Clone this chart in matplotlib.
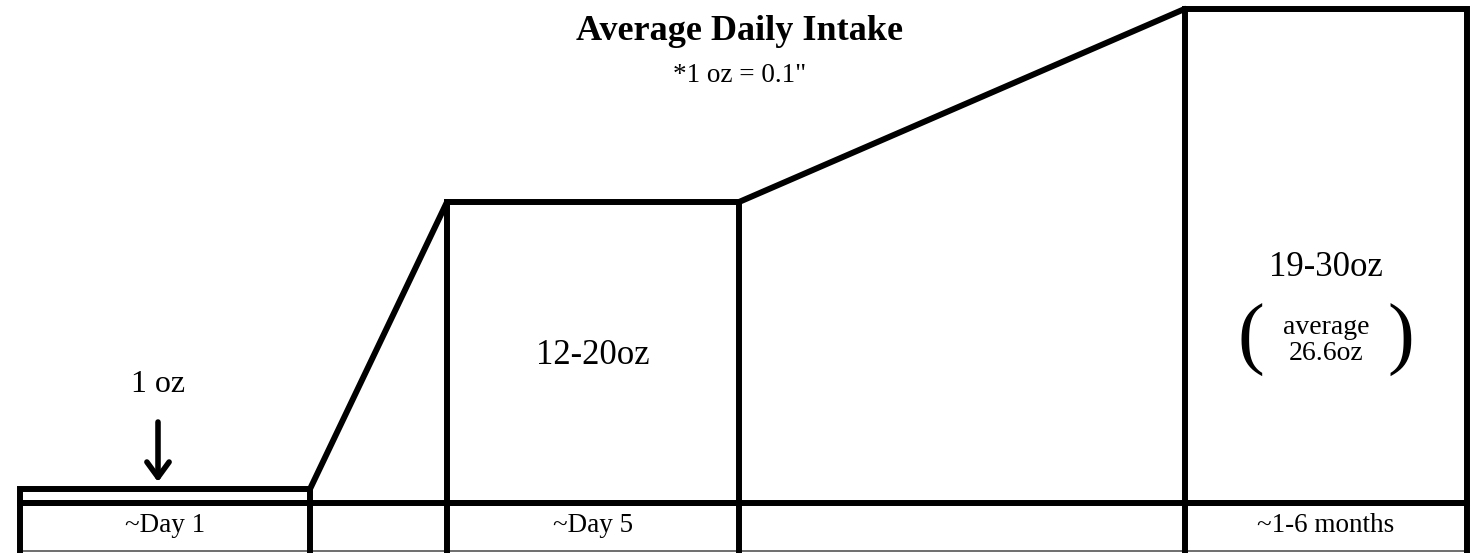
import matplotlib
matplotlib.use("Agg")
import matplotlib.pyplot as plt

# ---- data (heights in "1 oz" units) ----
categories = ["~Day 1", "~Day 5", "~1-6 months"]
bar_heights = [1.0, 21.5, 35.3]
bar_labels = ["1 oz", "12-20oz", "19-30oz"]
avg_note = ["average", "26.6oz"]
title = "Average Daily Intake"
subtitle = '*1 oz = 0.1"'

# ---- layout ----
W, H = 1472, 553
col_left = [20, 447, 1185]
col_right = [310, 739, 1467]
px_per_unit = 14.0
base_px = 503
y_top = base_px / px_per_unit
y_bot = -(H - base_px) / px_per_unit
row_bottom = -48 / px_per_unit

FONT = "Liberation Serif"
LW = 4.3

fig = plt.figure(figsize=(W / 100, H / 100), dpi=100)
ax = fig.add_axes([0, 0, 1, 1])
ax.set_xlim(0, W)
ax.set_ylim(y_bot, y_top)
ax.axis("off")

# bars
widths = [r - l for l, r in zip(col_left, col_right)]
ax.bar(col_left, bar_heights, width=widths, align="edge", bottom=0,
       facecolor="white", edgecolor="black", linewidth=LW, zorder=2)

# ramps connecting bars
for i in range(len(bar_heights) - 1):
    ax.plot([col_right[i], col_left[i + 1]], [bar_heights[i], bar_heights[i + 1]],
            color="black", lw=LW, solid_capstyle="round", zorder=3)

# baseline + label row
ax.plot([col_left[0], col_right[-1]], [0, 0], color="black", lw=LW, zorder=3)
ax.plot([col_left[0], col_right[-1]], [row_bottom, row_bottom], color="#555555", lw=1.2, zorder=3)
edges = sorted(set(col_left + col_right))
for x in edges:
    ax.plot([x, x], [row_bottom, 0], color="black", lw=LW, zorder=3)

for l, r, lab in zip(col_left, col_right, categories):
    ax.text((l + r) / 2, -1.6, lab, ha="center", va="center", fontsize=19.5, family=FONT)

# titles
ax.text(740, (base_px - 32) / px_per_unit, title, ha="center", va="center",
        fontsize=26, fontweight="bold", family=FONT)
ax.text(740, (base_px - 75) / px_per_unit, subtitle, ha="center", va="center",
        fontsize=19.5, family=FONT)

# day 1 label + arrow
cx0 = 158
ax.text(cx0, (base_px - 385) / px_per_unit, bar_labels[0], ha="center", va="center",
        fontsize=23, family=FONT)
ax.annotate("", xy=(cx0, (base_px - 482) / px_per_unit), xytext=(cx0, (base_px - 422) / px_per_unit),
            arrowprops=dict(arrowstyle="->,head_length=0.55,head_width=0.4", lw=4, color="black",
                            shrinkA=0, shrinkB=0, mutation_scale=20))

# day 5 label
ax.text((col_left[1] + col_right[1]) / 2, (base_px - 355) / px_per_unit, bar_labels[1],
        ha="center", va="center", fontsize=25, family=FONT)

# months label
cx2 = (col_left[2] + col_right[2]) / 2
ax.text(cx2, (base_px - 268) / px_per_unit, bar_labels[2], ha="center", va="center",
        fontsize=25, family=FONT)
ax.text(cx2, (base_px - 327) / px_per_unit, avg_note[0], ha="center", va="center",
        fontsize=20, family=FONT)
ax.text(cx2, (base_px - 353) / px_per_unit, avg_note[1], ha="center", va="center",
        fontsize=20, family=FONT)
ax.text(cx2 - 75, (base_px - 340) / px_per_unit, "(", ha="center", va="center",
        fontsize=58, family=FONT)
ax.text(cx2 + 75, (base_px - 340) / px_per_unit, ")", ha="center", va="center",
        fontsize=58, family=FONT)

fig.savefig("out.png", dpi=100, facecolor="white")
